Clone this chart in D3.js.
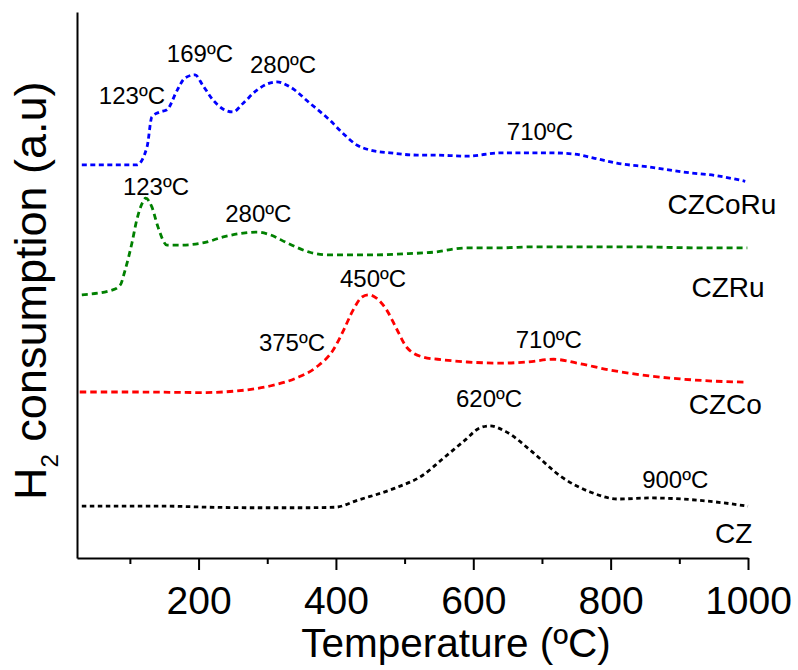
<!DOCTYPE html>
<html>
<head>
<meta charset="utf-8">
<script src="https://cdn.jsdelivr.net/npm/d3@7/dist/d3.min.js"></script>
<style>
  body { margin: 0; background: #fff; }
  svg text { font-family: "Liberation Sans", Arial, Helvetica, sans-serif; fill: #000; }
</style>
</head>
<body>
<svg id="chart" width="798" height="670"></svg>
<script>
// TPR profiles: temperature (ºC) and H2 signal (a.u., traces stacked with offsets)
const tempCZCoRu = [30, 110, 125, 132, 144, 154, 169, 180, 195, 206, 221, 236, 250, 265, 285, 314, 333, 362, 391, 410, 431, 450, 479, 518, 541, 591, 639, 664, 712, 745, 774, 809, 857, 905, 955, 996];
const sigCZCoRu  = [7.20, 7.20, 7.53, 8.08, 8.17, 8.21, 8.57, 8.79, 8.85, 8.66, 8.39, 8.22, 8.17, 8.33, 8.57, 8.72, 8.63, 8.33, 8.02, 7.78, 7.56, 7.47, 7.42, 7.38, 7.38, 7.36, 7.42, 7.42, 7.42, 7.40, 7.33, 7.23, 7.16, 7.07, 7.00, 6.90];

const tempCZRu = [30, 75, 86, 93, 103, 110, 118, 123, 132, 141, 154, 173, 206, 236, 265, 285, 304, 329, 362, 391, 450, 498, 541, 591, 639, 687, 736, 832, 930, 999];
const sigCZRu  = [4.82, 4.91, 5.00, 5.27, 5.77, 6.19, 6.50, 6.59, 6.43, 6.06, 5.73, 5.73, 5.77, 5.88, 5.95, 5.97, 5.92, 5.77, 5.60, 5.55, 5.55, 5.57, 5.60, 5.68, 5.68, 5.70, 5.70, 5.70, 5.68, 5.68];

const tempCZCo = [27, 110, 206, 256, 304, 343, 372, 396, 410, 425, 438, 448, 459, 474, 489, 503, 527, 556, 591, 640, 678, 717, 751, 800, 859, 901, 949, 996];
const sigCZCo  = [3.04, 3.04, 3.03, 3.06, 3.15, 3.30, 3.50, 3.81, 4.14, 4.54, 4.78, 4.82, 4.76, 4.54, 4.18, 3.86, 3.68, 3.63, 3.59, 3.57, 3.59, 3.64, 3.57, 3.44, 3.33, 3.28, 3.24, 3.22];

const tempCZ = [30, 148, 215, 284, 351, 399, 432, 486, 527, 553, 588, 609, 624, 648, 688, 729, 770, 811, 857, 926, 1000];
const sigCZ  = [0.95, 0.95, 0.93, 0.92, 0.92, 0.93, 1.06, 1.28, 1.52, 1.79, 2.16, 2.38, 2.42, 2.31, 1.92, 1.48, 1.21, 1.08, 1.10, 1.06, 0.95];

const seriesNames  = ["CZCoRu", "CZRu", "CZCo", "CZ"];
const seriesColors = ["#0000ff", "#008000", "#ff0000", "#000000"];

// peak annotations: text, anchor temperature, anchor signal
const peakText = ["123ºC", "169ºC", "280ºC", "710ºC", "123ºC", "280ºC", "375ºC", "450ºC", "710ºC", "620ºC", "900ºC"];
const peakTemp = [103, 202, 323, 697, 138, 287, 336, 454, 710, 623, 894];
const peakSig  = [8.31, 9.09, 8.89, 7.65, 6.64, 6.16, 3.80, 4.97, 3.85, 2.77, 1.28];

// sample name labels next to each trace
const nameTemp = [962, 971, 967, 979];
const nameSig  = [6.30, 4.78, 2.64, 0.27];

const majorTicks = [200, 400, 600, 800, 1000];
const minorTicks = [100, 300, 500, 700, 900];

const svg = d3.select("#chart");
const plotLeft = 77, plotRight = 748, plotTop = 12, plotBottom = 558;

const x = d3.scaleLinear().domain([23, 1000]).range([plotLeft, plotRight]);
const y = d3.scaleLinear().domain([0, 10]).range([plotBottom, plotTop]);

const series = [
  { T: tempCZCoRu, S: sigCZCoRu, dash: "5,3.5" },
  { T: tempCZRu,   S: sigCZRu,   dash: "6,4" },
  { T: tempCZCo,   S: sigCZCo,   dash: "6.5,4" },
  { T: tempCZ,     S: sigCZ,     dash: "4.5,3.5" }
];

const line = d3.line()
  .x(d => x(d[0]))
  .y(d => y(d[1]))
  .curve(d3.curveMonotoneX);

series.forEach((s, i) => {
  svg.append("path")
    .datum(s.T.map((t, k) => [t, s.S[k]]))
    .attr("fill", "none")
    .attr("stroke", seriesColors[i])
    .attr("stroke-width", 2.8)
    .attr("stroke-dasharray", s.dash)
    .attr("d", line);
});

// x axis: major ticks with labels, minor ticks without
const xAxis = svg.append("g")
  .attr("transform", `translate(0,${plotBottom})`)
  .call(d3.axisBottom(x).tickValues(majorTicks).tickFormat(d3.format("d"))
    .tickSize(12).tickSizeOuter(0).tickPadding(16));
xAxis.select(".domain").attr("stroke-width", 2);
xAxis.selectAll(".tick line").attr("stroke-width", 2);
xAxis.selectAll(".tick text")
  .style("font-size", "39px")
  .style("font-family", "'Liberation Sans', Arial, sans-serif");

const xMinor = svg.append("g")
  .attr("transform", `translate(0,${plotBottom})`)
  .call(d3.axisBottom(x).tickValues(minorTicks).tickSize(6).tickSizeOuter(0).tickFormat(""));
xMinor.select(".domain").remove();
xMinor.selectAll(".tick line").attr("stroke-width", 2);

// y axis: plain line, arbitrary units
const yAxis = svg.append("g")
  .attr("transform", `translate(${plotLeft},0)`)
  .call(d3.axisLeft(y).tickValues([]).tickSizeOuter(0));
yAxis.select(".domain").attr("stroke-width", 2);

// axis titles
svg.append("text")
  .attr("x", 456)
  .attr("y", 657)
  .attr("text-anchor", "middle")
  .style("font-size", "40.5px")
  .text("Temperature (ºC)");

const yTitle = svg.append("text")
  .attr("transform", "translate(46,500) rotate(-90)")
  .attr("text-anchor", "start")
  .style("font-size", "45px");
yTitle.append("tspan").text("H");
yTitle.append("tspan").attr("dy", 12).style("font-size", "24px").text("2");
yTitle.append("tspan").attr("dy", -12).text(" consumption (a.u)");

// peak temperature annotations
svg.append("g").selectAll("text")
  .data(peakText)
  .join("text")
  .attr("x", (d, i) => x(peakTemp[i]))
  .attr("y", (d, i) => y(peakSig[i]))
  .attr("text-anchor", "middle")
  .style("font-size", "24px")
  .text(d => d);

// sample names
svg.append("g").selectAll("text")
  .data(seriesNames)
  .join("text")
  .attr("x", (d, i) => x(nameTemp[i]))
  .attr("y", (d, i) => y(nameSig[i]))
  .attr("text-anchor", "middle")
  .style("font-size", "28px")
  .text(d => d);
</script>
</body>
</html>
